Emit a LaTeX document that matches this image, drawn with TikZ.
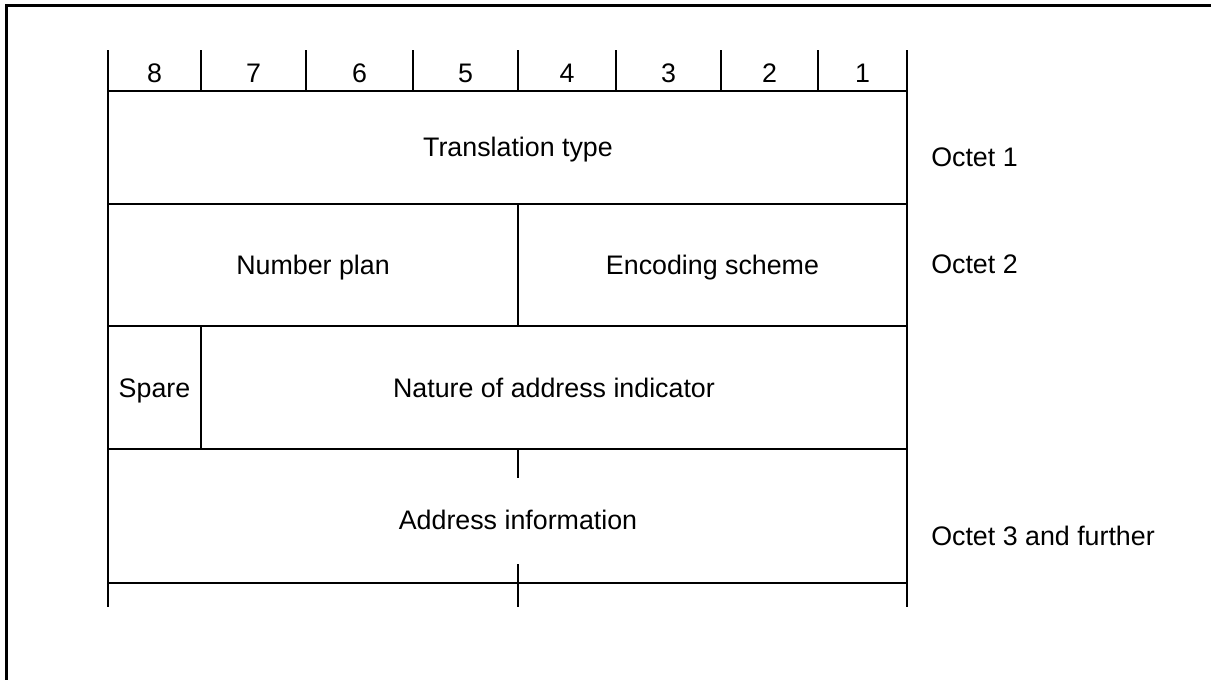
\documentclass[tikz,border=0pt]{standalone}
\usepackage{fontspec}
\setmainfont{Liberation Sans}
\begin{document}
\begin{tikzpicture}[x=0.75pt,y=-0.75pt,
  frameline/.style={line width=2.2pt,line cap=rect},
  gridline/.style={line width=1.5pt},
  lbl/.style={anchor=base,inner sep=0pt,font=\fontsize{20.1}{24}\selectfont},
  octlbl/.style={anchor=base west,inner sep=0pt,font=\fontsize{20.1}{24}\selectfont}]
\useasboundingbox (0,0) rectangle (1211,679);
\begin{scope}
\clip (0,0) rectangle (1211,679);
\draw[frameline] (6.5,5.5) rectangle (1230,700);
\end{scope}
% column x positions
\def\cA{108}\def\cB{201}\def\cC{306}\def\cD{413}\def\cE{518}\def\cF{616}\def\cG{721}\def\cH{818}\def\cI{907}
% header ticks
\foreach \x in {\cA,\cB,\cC,\cD,\cE,\cF,\cG,\cH,\cI}
  \draw[gridline] (\x,50) -- (\x,91);
% header digits
\node[lbl] (b8) at ({(\cA+\cB)/2},82) {8};
\node[lbl] (b7) at ({(\cB+\cC)/2},82) {7};
\node[lbl] (b6) at ({(\cC+\cD)/2},82) {6};
\node[lbl] (b5) at ({(\cD+\cE)/2},82) {5};
\node[lbl] (b4) at ({(\cE+\cF)/2},82) {4};
\node[lbl] (b3) at ({(\cF+\cG)/2},82) {3};
\node[lbl] (b2) at ({(\cG+\cH)/2},82) {2};
\node[lbl] (b1) at ({(\cH+\cI)/2},82) {1};
% horizontal lines
\foreach \y in {91,204,326,449,583}
  \draw[gridline] (\cA,\y) -- (\cI,\y);
% outer verticals
\draw[gridline] (\cA,91) -- (\cA,607);
\draw[gridline] (\cI,91) -- (\cI,607);
% inner dividers
\draw[gridline] (\cE,204) -- (\cE,326);
\draw[gridline] (\cB,326) -- (\cB,449);
\draw[gridline] (\cE,449) -- (\cE,478);
\draw[gridline] (\cE,564) -- (\cE,607);
% field texts
\node[lbl] (tt) at (\cE,156) {Translation type};
\node[lbl] (np) at ({(\cA+\cE)/2},274) {Number plan};
\node[lbl] (es) at ({(\cE+\cI)/2},274) {Encoding scheme};
\node[lbl] (sp) at ({(\cA+\cB)/2},397) {Spare};
\node[lbl] (na) at ({(\cB+\cI)/2},397) {Nature of address indicator};
\node[lbl] (ai) at (\cE,529) {Address information};
% octet labels
\node[octlbl] (o1) at (931,166) {Octet 1};
\node[octlbl] (o2) at (931,273) {Octet 2};
\node[octlbl] (o3) at (931,545) {Octet 3 and further};
\end{tikzpicture}
\end{document}
